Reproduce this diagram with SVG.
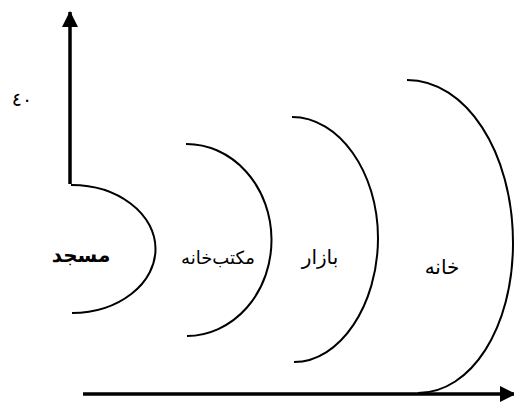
<svg xmlns="http://www.w3.org/2000/svg" width="514" height="405" viewBox="0 0 514 405">
<style>
.arc{fill:none;stroke:#000;stroke-width:2}
.ax{fill:none;stroke:#000;stroke-width:3.5}
.t{font-family:"DejaVu Sans","Noto Sans",sans-serif;font-size:20px;fill:#000}
</style>
<defs>
<marker id="ah" viewBox="0 0 16 16" refX="15" refY="8" markerWidth="16" markerHeight="16" orient="auto" markerUnits="userSpaceOnUse">
<path d="M0,0 L16,8 L0,16 Z" fill="#000"/>
</marker>
</defs>
<rect width="514" height="405" fill="#fff"/>
<g id="connectors">
<path class="ax" d="M70,184 L70,12" marker-end="url(#ah)"/>
<path class="ax" d="M83,394 L515,394" marker-end="url(#ah)"/>
</g>
<g id="masjid">
<path class="arc" d="M71,185 A84,64 0 0 1 72,313"/>
<text class="t" x="81" y="262" text-anchor="middle" font-weight="bold">مسجد</text>
</g>
<g id="maktabkhaneh">
<path class="arc" d="M186,144 A85,96 0 0 1 187,336"/>
<text class="t" x="218" y="264" text-anchor="middle" style="font-size:18px">مکتب‌خانه</text>
</g>
<g id="bazar">
<path class="arc" d="M292,117 C339,117 378,172 378,238 C378,305 340,362 294,362"/>
<text class="t" x="320" y="264" text-anchor="middle">بازار</text>
</g>
<g id="khaneh">
<path class="arc" d="M407,80 C466,80 513,152 513,243 C513,328 471,393 418,393"/>
<text class="t" x="442" y="274" text-anchor="middle">خانه</text>
</g>
<g id="label40">
<text class="t" x="22" y="106" text-anchor="middle" style="font-size:19px;letter-spacing:5px">٤٠</text>
</g>
</svg>
